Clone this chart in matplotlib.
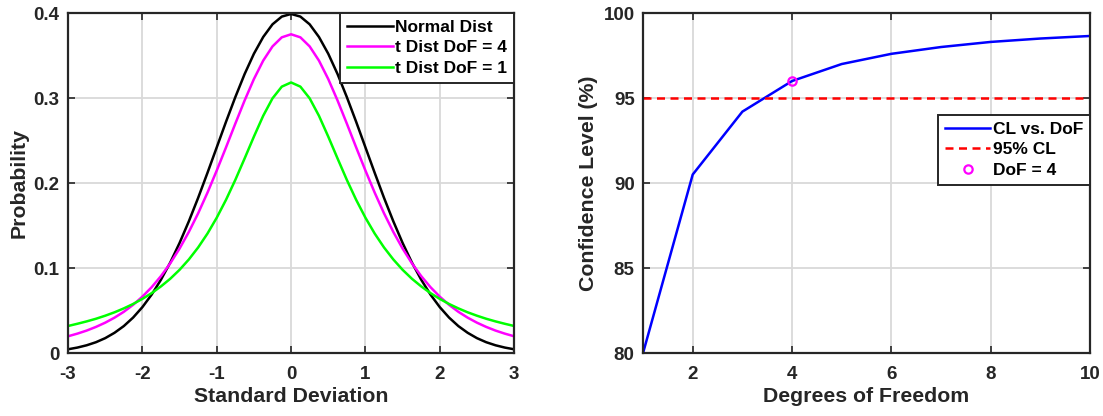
import numpy as np
import matplotlib
matplotlib.use('Agg')
from matplotlib import pyplot as plt

# left panel : pdf values read at 0.125 steps from x = 0 to x = 3 (curves are symmetric)
half_x = [0, 0.125, 0.25, 0.375, 0.5, 0.625, 0.75, 0.875, 1.0, 1.125, 1.25, 1.375, 1.5,
          1.625, 1.75, 1.875, 2.0, 2.125, 2.25, 2.375, 2.5, 2.625, 2.75, 2.875, 3.0]
normal_half = [0.3989, 0.3958, 0.3867, 0.3718, 0.3521, 0.3282, 0.3011, 0.2721, 0.2420,
               0.2119, 0.1826, 0.1550, 0.1295, 0.1065, 0.0863, 0.0688, 0.0540, 0.0417,
               0.0317, 0.0238, 0.0175, 0.0127, 0.0091, 0.0064, 0.0044]
t4_half = [0.3750, 0.3714, 0.3607, 0.3440, 0.3223, 0.2971, 0.2699, 0.2420, 0.2147,
           0.1886, 0.1644, 0.1425, 0.1229, 0.1056, 0.0905, 0.0775, 0.0663, 0.0567,
           0.0485, 0.0416, 0.0357, 0.0307, 0.0264, 0.0228, 0.0197]
t1_half = [0.3183, 0.3134, 0.2996, 0.2791, 0.2546, 0.2289, 0.2037, 0.1803, 0.1592,
           0.1405, 0.1242, 0.1101, 0.0979, 0.0874, 0.0784, 0.0705, 0.0637, 0.0577,
           0.0525, 0.0479, 0.0439, 0.0403, 0.0372, 0.0344, 0.0318]
left_labels = ['Normal Dist', 't Dist DoF = 4', 't Dist DoF = 1']

# right panel
dof = [1, 2, 3, 4, 5, 6, 7, 8, 9, 10]
conf_level = [80.0, 90.5, 94.2, 96.0, 97.0, 97.6, 98.0, 98.3, 98.5, 98.65]
cl_ref = 95
dof_mark = 4
dof_mark_cl = 96.0
right_labels = ['CL vs. DoF', '95% CL', 'DoF = 4']


def mirror(h):
    return list(h[:0:-1]) + list(h)


x_full = [-v for v in half_x[:0:-1]] + half_x

plt.rcParams['font.family'] = ['Liberation Sans', 'DejaVu Sans']
plt.rcParams['font.weight'] = 'bold'
plt.rcParams['axes.labelweight'] = 'bold'
plt.rcParams['axes.unicode_minus'] = False

box_col = '#262626'
grid_col = '#d9d9d9'


def style_axes(ax):
    for s in ax.spines.values():
        s.set_color(box_col)
        s.set_linewidth(1.6)
    ax.tick_params(direction='in', length=5, width=1.2, colors=box_col,
                   top=True, right=True, labelsize=13.5)
    ax.tick_params(axis='x', pad=9)
    ax.tick_params(axis='y', pad=6)
    for lab in ax.get_xticklabels() + ax.get_yticklabels():
        lab.set_fontweight('bold')
        lab.set_color(box_col)
    ax.grid(True, color=grid_col, linewidth=1.3)
    ax.set_axisbelow(True)


def make_legend(ax, **kw):
    leg = ax.legend(fancybox=False, framealpha=1, edgecolor=box_col, fontsize=12.5,
                    handlelength=2.6, handletextpad=0.15, borderpad=0.4,
                    labelspacing=0.3, borderaxespad=0.0, **kw)
    leg.get_frame().set_linewidth(1.4)
    return leg


fig = plt.figure(figsize=(11.03, 4.16), dpi=100)

ax1 = fig.add_axes([0.0617, 0.1514, 0.4044, 0.8173])
ax1.plot(x_full, mirror(normal_half), color='black', lw=1.8, label=left_labels[0])
ax1.plot(x_full, mirror(t4_half), color='#ff00ff', lw=1.8, label=left_labels[1])
ax1.plot(x_full, mirror(t1_half), color='#00ff00', lw=1.8, label=left_labels[2])
ax1.set_xlim(-3, 3)
ax1.set_ylim(0, 0.4)
ax1.set_xticks([-3, -2, -1, 0, 1, 2, 3])
ax1.set_yticks([0, 0.1, 0.2, 0.3, 0.4])
ax1.set_yticklabels(['0', '0.1', '0.2', '0.3', '0.4'])
ax1.set_xlabel('Standard Deviation', fontsize=15.3, color=box_col, labelpad=3)
ax1.set_ylabel('Probability', fontsize=15.3, color=box_col, labelpad=4)
style_axes(ax1)
make_legend(ax1, loc='upper right')

ax2 = fig.add_axes([0.583, 0.1514, 0.4053, 0.8173])
ax2.plot(dof, conf_level, color='#0000ff', lw=1.8, label=right_labels[0])
ax2.axhline(cl_ref, color='#ff0000', lw=1.8, ls=(0, (3.2, 2.2)), label=right_labels[1])
ax2.plot([dof_mark], [dof_mark_cl], 'o', mfc='none', mec='#ff00ff', mew=1.6, ms=6,
         ls='none', label=right_labels[2])
ax2.set_xlim(1, 10)
ax2.set_ylim(80, 100)
ax2.set_xticks([2, 4, 6, 8, 10])
ax2.set_yticks([80, 85, 90, 95, 100])
ax2.set_xlabel('Degrees of Freedom', fontsize=15.3, color=box_col, labelpad=3)
ax2.set_ylabel('Confidence Level (%)', fontsize=15.3, color=box_col, labelpad=4)
style_axes(ax2)
make_legend(ax2, loc='upper right', bbox_to_anchor=(1.0, 0.70))

fig.savefig('out.png', dpi=100)
